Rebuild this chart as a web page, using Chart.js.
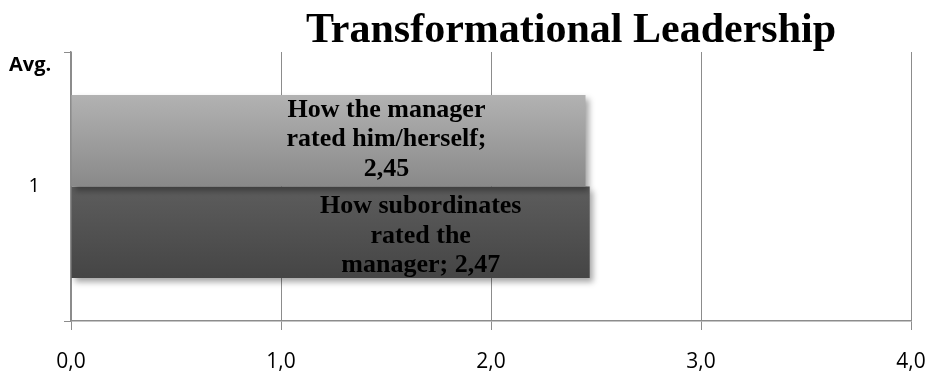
<!DOCTYPE html>
<html>
<head>
<meta charset="utf-8">
<script src="https://cdn.jsdelivr.net/npm/chart.js@4/dist/chart.umd.min.js"></script>
<style>
  html, body { margin: 0; padding: 0; background: #fff; }
  #wrap { width: 929px; height: 379px; }
</style>
</head>
<body>
<div id="wrap"><canvas id="chart"></canvas></div>
<script>
const chartTitle = 'Transformational Leadership';
const axisTitle = 'Avg.';
const categories = ['1'];
const seriesNames = ['How the manager rated him/herself', 'How subordinates rated the manager'];
const managerSelf = [2.45];
const subordinates = [2.47];
const xTicks = [0, 1, 2, 3, 4];
// how each data label wraps inside its bar
const labelLines = [
  ['How the manager', 'rated him/herself;', '{v}'],
  ['How subordinates', 'rated the', 'manager; {v}']
];
const barGradients = [['#b2b2b2', '#898989'], ['#5d5d5d', '#454545']];

const fmt = v => v.toFixed(2).replace('.', ',');

// gradient fill + drop shadow on the bars
const barStyle = {
  id: 'barStyle',
  beforeDatasetDraw(chart, args) {
    const ctx = chart.ctx;
    const meta = args.meta;
    meta.data.forEach(bar => {
      const top = bar.y - bar.height / 2;
      const g = ctx.createLinearGradient(0, top, 0, top + bar.height);
      g.addColorStop(0, barGradients[args.index][0]);
      g.addColorStop(1, barGradients[args.index][1]);
      bar.options.backgroundColor = g;
    });
    ctx.save();
    ctx.shadowColor = 'rgba(0,0,0,0.35)';
    ctx.shadowBlur = 6;
    ctx.shadowOffsetX = 3;
    ctx.shadowOffsetY = 4;
  },
  afterDatasetDraw(chart) {
    chart.ctx.restore();
  }
};

const barLabels = {
  id: 'barLabels',
  afterDatasetsDraw(chart) {
    const ctx = chart.ctx;
    ctx.save();
    ctx.font = 'bold 26px "Liberation Serif", "Times New Roman", serif';
    ctx.fillStyle = '#000';
    ctx.textAlign = 'center';
    ctx.textBaseline = 'middle';
    const shifts = [199, 169];
    const dy = [-1, 4];
    chart.data.datasets.forEach((ds, i) => {
      chart.getDatasetMeta(i).data.forEach((bar, j) => {
        const lines = labelLines[i].map(s => s.replace('{v}', fmt(ds.data[j])));
        const cx = bar.x - shifts[i];
        lines.forEach((line, k) => {
          ctx.fillText(line, cx, bar.y + dy[i] + (k - 1) * 29.5);
        });
      });
    });
    ctx.restore();
  }
};

const extraText = {
  id: 'extraText',
  afterDraw(chart) {
    const ctx = chart.ctx;
    ctx.save();
    ctx.fillStyle = '#000';
    ctx.textBaseline = 'alphabetic';
    ctx.textAlign = 'center';
    ctx.font = 'bold 42px "Liberation Serif", "Times New Roman", serif';
    ctx.fillText(chartTitle, 571, 42);
    ctx.textAlign = 'left';
    ctx.font = 'bold 20px "Open Sans", "Liberation Sans", sans-serif';
    ctx.fillText(axisTitle, 9, 71);
    ctx.restore();
  }
};

new Chart(document.getElementById('chart'), {
  type: 'bar',
  data: {
    labels: categories,
    datasets: [
      { label: seriesNames[0], data: managerSelf, borderWidth: 0 },
      { label: seriesNames[1], data: subordinates, borderWidth: 0 }
    ]
  },
  options: {
    indexAxis: 'y',
    responsive: true,
    maintainAspectRatio: false,
    animation: false,
    datasets: { bar: { categoryPercentage: 0.68, barPercentage: 1 } },
    layout: { padding: { left: 0, top: 52, right: 18, bottom: 0 } },
    plugins: {
      legend: { display: false },
      title: { display: false },
      tooltip: { enabled: false }
    },
    scales: {
      x: {
        min: 0,
        max: 4,
        afterBuildTicks: scale => { scale.ticks = xTicks.map(v => ({ value: v })); },
        ticks: {
          callback: v => v.toFixed(1).replace('.', ','),
          color: '#000',
          padding: 19,
          font: { family: '"Open Sans", sans-serif', size: 21 }
        },
        grid: { color: '#8c8c8c', lineWidth: 1, tickLength: 9 },
        border: { color: '#8c8c8c', width: 1.5 },
        afterFit: s => { s.height = 58; s.paddingLeft = 0; s.paddingRight = 0; }
      },
      y: {
        ticks: {
          color: '#000',
          padding: 24,
          font: { family: '"Open Sans", "Liberation Sans", sans-serif', size: 20 }
        },
        grid: { drawOnChartArea: false, color: '#8c8c8c', tickLength: 7, offset: true },
        border: { color: '#8c8c8c', width: 1.5 },
        afterFit: s => { s.width = 71; s.paddingTop = 0; s.paddingBottom = 0; }
      }
    }
  },
  plugins: [barStyle, barLabels, extraText]
});
</script>
</body>
</html>
